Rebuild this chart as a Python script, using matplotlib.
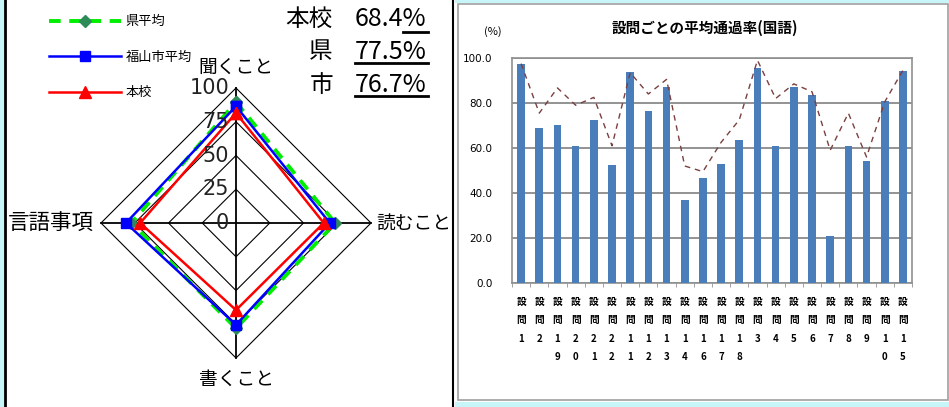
import matplotlib
matplotlib.use('Agg')
import matplotlib.pyplot as plt
import numpy as np
from matplotlib.transforms import Bbox, TransformedBbox
from matplotlib.patches import Rectangle
from matplotlib.lines import Line2D

plt.rcParams['font.family'] = ['Noto Sans CJK JP', 'DejaVu Sans']

# レーダーチャート (領域別)
areas = ['聞くこと', '読むこと', '書くこと', '言語事項']
ken = [89.5, 73.5, 78.0, 77.5]
shi = [86.5, 69.5, 75.5, 81.5]
honko = [81.5, 65.0, 64.5, 71.0]
rings = [0, 25, 50, 75, 100]
summary_names = ['本校', '県', '市']
summary_vals = ['68.4%', '77.5%', '76.7%']

# 設問ごとの平均通過率
q_labels = ['1', '2', '19', '20', '21', '22', '11', '12', '13', '14', '16',
            '17', '18', '3', '4', '5', '6', '7', '8', '9', '10', '15']
q_school = [97.5, 68.8, 70.2, 60.7, 72.3, 52.3, 93.6, 76.6, 87.1, 36.7, 46.5,
            53.0, 63.7, 95.7, 60.7, 87.1, 83.6, 20.9, 60.7, 54.4, 80.7, 94.4]
q_avg = [97.5, 75.5, 86.7, 79.0, 82.5, 61.0, 93.5, 84.0, 90.5, 52.0, 49.5,
         62.5, 72.5, 99.0, 82.0, 88.5, 85.0, 59.0, 75.5, 56.0, 80.5, 94.5]

W, H = 949, 407
fig = plt.figure(figsize=(W / 100, H / 100), dpi=100)
fig.patch.set_facecolor('white')


def px(x0, y0, x1, y1):
    # 画素座標(上基準) -> figure座標
    return [x0 / W, 1 - y1 / H, (x1 - x0) / W, (y1 - y0) / H]


# 枠・背景
cyan = '#c8f6f8'
fig.add_artist(Rectangle((0, 0), 4 / W, 1, transform=fig.transFigure, color=cyan, lw=0))
fig.add_artist(Rectangle((455 / W, 1 - 3 / H), 1, 3 / H, transform=fig.transFigure, color=cyan, lw=0))
fig.add_artist(Rectangle((455 / W, 0), 1, 5 / H, transform=fig.transFigure, color=cyan, lw=0))
fig.add_artist(Line2D([5 / W, 5 / W], [0, 1], transform=fig.transFigure, color='black', lw=2))
fig.add_artist(Line2D([452.5 / W, 452.5 / W], [0, 1], transform=fig.transFigure, color='black', lw=1.5))
fig.add_artist(Rectangle((458 / W, 1 - 400 / H), 490 / W, 396 / H, transform=fig.transFigure,
                         fill=False, ec='#a0a0a0', lw=1.2))

# ---- レーダー ----
scale = 1.35  # px per unit
cx, cy, half = 236, 223, 150
ax = fig.add_axes(px(cx - half, cy - half, cx + half, cy + half))
lim = half / scale
ax.set_xlim(-lim, lim)
ax.set_ylim(-lim, lim)
ax.axis('off')

theta = np.pi / 2 - np.arange(len(areas)) * np.pi / 2
dx, dy = np.cos(theta), np.sin(theta)

for r in rings[1:]:
    ax.plot(np.append(r * dx, r * dx[0]), np.append(r * dy, r * dy[0]), color='black', lw=0.8)
for i in range(len(areas)):
    ax.plot([0, 100 * dx[i]], [0, 100 * dy[i]], color='black', lw=1.3)
for r in rings:
    ax.text(-5, r, str(r), ha='right', va='center', fontsize=15, color='#222222',
            family=['DejaVu Sans'])


def closed(v):
    v = np.asarray(v)
    return np.append(v * dx, v[0] * dx[0]), np.append(v * dy, v[0] * dy[0])


l1, = ax.plot(*closed(ken), color='#00ee00', lw=2.8, ls=(0, (3, 2.2)), marker='D',
              ms=6, mfc='#2e8b57', mec='#2e8b57', label='県平均')
l2, = ax.plot(*closed(shi), color='#0000ff', lw=1.8, marker='s', ms=7, label='福山市平均')
l3, = ax.plot(*closed(honko), color='#ff0000', lw=1.8, marker='^', ms=8, label='本校')

ax.text(0, 115, areas[0], ha='center', va='center', fontsize=13.5, clip_on=False)
t = ax.text(104, 0, areas[1], ha='left', va='center', fontsize=13.5, clip_on=True)
t.set_clip_box(TransformedBbox(Bbox([[0, 0], [452 / W, 1]]), fig.transFigure))
ax.text(0, -116, areas[2], ha='center', va='center', fontsize=13.5, clip_on=False)
ax.text(-105, 0, areas[3], ha='right', va='center', fontsize=15.5, clip_on=False)

fig.legend(handles=[l1, l2, l3], loc='upper left', bbox_to_anchor=(44 / W, 1 - 10 / H),
           frameon=False, fontsize=9.5, handlelength=5.4, labelspacing=1.7, handletextpad=0.4,
           borderaxespad=0)

# 本校・県・市
for i, (n, v) in enumerate(zip(summary_names, summary_vals)):
    yy = 1 - (19 + 33 * i) / H
    fig.text(333 / W, yy, n, ha='right', va='center', fontsize=17)
    fig.text(355 / W, yy, v, ha='left', va='center', fontsize=18)
fig.add_artist(Line2D([403 / W, 428 / W], [1 - 32 / H] * 2, transform=fig.transFigure, color='black', lw=2))
for yl in [63, 96]:
    fig.add_artist(Line2D([355 / W, 428 / W], [1 - yl / H] * 2, transform=fig.transFigure,
                          color='black', lw=2))

# ---- 棒グラフ ----
bx = fig.add_axes(px(512, 58, 912, 283))
x = np.arange(len(q_labels))
bx.bar(x, q_school, width=0.42, color='#4a7ebb', zorder=3)
bx.plot(x, q_avg, color='#7a4040', lw=1.0, ls=(0, (4, 3.5)), zorder=4)
bx.set_xlim(-0.5, len(q_labels) - 0.5)
bx.set_ylim(0, 100)
bx.set_yticks(np.arange(0, 101, 20))
bx.set_yticklabels(['%.1f' % v for v in np.arange(0, 101, 20)], fontsize=7.5,
                   family=['DejaVu Sans'])
bx.yaxis.grid(True, color='#808080', lw=1.2, zorder=0)
for s in bx.spines.values():
    s.set_color('#909090')
    s.set_linewidth(1.2)
bx.tick_params(axis='y', length=0, pad=14)
bx.set_xticks(x)
bx.set_xticklabels(['設\n問\n' + '\n'.join(q) for q in q_labels], fontsize=7,
                   fontweight='bold', linespacing=2.05, va='top')
bx.tick_params(axis='x', length=0, pad=10)
bx.set_xticks(np.arange(-0.5, len(q_labels), 1), minor=True)
bx.tick_params(axis='x', which='minor', length=3, color='#909090')
fig.text(705 / W, 1 - 28 / H, '設問ごとの平均通過率(国語)', ha='center', va='center',
         fontsize=10.5, fontweight='bold')
fig.text(493 / W, 1 - 32 / H, '(%)', ha='center', va='center', fontsize=8)

fig.savefig('out.png', dpi=100)
